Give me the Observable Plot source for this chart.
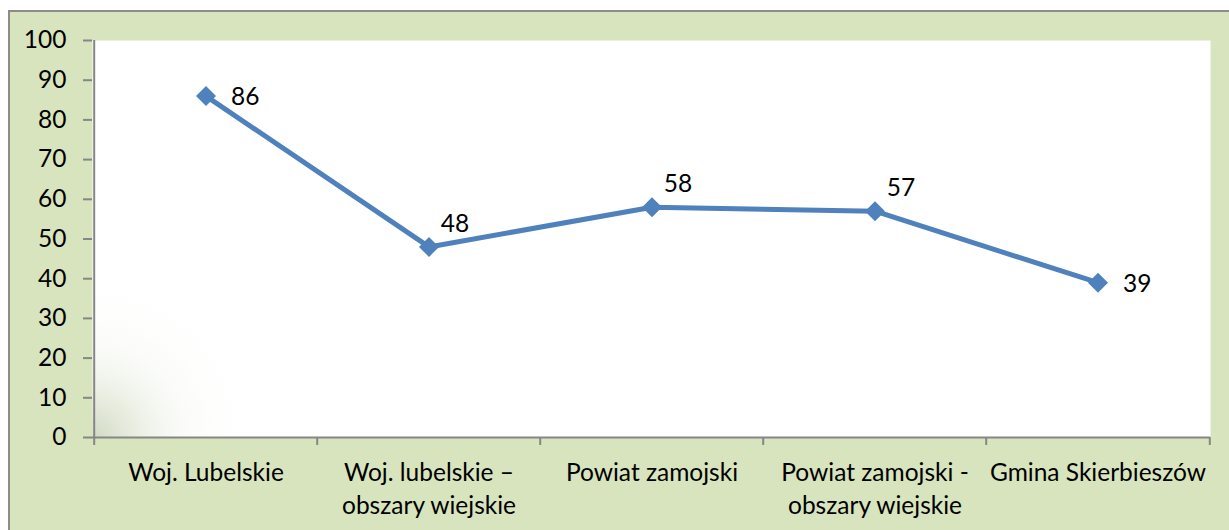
<!DOCTYPE html>
<html>
<head>
<meta charset="utf-8">
<script src="https://cdn.jsdelivr.net/npm/d3@7"></script>
<script src="https://cdn.jsdelivr.net/npm/@observablehq/plot@0.6"></script>
<style>
  html, body { margin: 0; padding: 0; background: #ffffff; }
  #wrap { position: relative; width: 1229px; height: 530px; overflow: hidden; }
  #box { position: absolute; left: 8px; top: 10px; width: 1250px; height: 560px;
         background: #d7e4bd; border: 2px solid #8c8c8c; box-sizing: border-box; }
  #chart { position: absolute; left: 0; top: 0; }
</style>
</head>
<body>
<div id="wrap">
  <div id="box"></div>
  <div id="chart"></div>
</div>
<script>
const categories = [
  "Woj. Lubelskie",
  "Woj. lubelskie –\nobszary wiejskie",
  "Powiat zamojski",
  "Powiat zamojski -\nobszary wiejskie",
  "Gmina Skierbieszów"
];
const values = [86, 48, 58, 57, 39];
const yTicks = [0, 10, 20, 30, 40, 50, 60, 70, 80, 90, 100];

const data = categories.map((c, i) => ({category: c, value: values[i], i}));

const W = 1229, H = 530, mL = 92, mR = 19, mT = 40, mB = 93;
const bw = (W - mL - mR) / categories.length;
const font = "Lato, 'Open Sans', sans-serif";
const lineColor = "#4f81bd";
const axisGray = "#868686";

const chart = Plot.plot({
  width: W, height: H,
  marginLeft: mL, marginRight: mR, marginTop: mT, marginBottom: mB,
  style: {background: "transparent", fontFamily: font, fontSize: "24px", color: "#000"},
  x: {type: "band", domain: categories, padding: 0, label: null},
  y: {domain: [0, 100], label: null},
  marks: [
    Plot.frame({fill: "#ffffff", stroke: "none"}),
    Plot.frame({fill: "url(#cornerGrad)", stroke: "none"}),
    Plot.axisY({ticks: yTicks, tickFormat: d => d, tickSize: 9, tickPadding: 17, label: null,
      stroke: axisGray, strokeWidth: 2, strokeOpacity: 1, fill: "#000", fontSize: 24.5}),
    Plot.axisX({tickSize: 0, tickPadding: 20, label: null, fill: "#000", fontSize: 24.5, lineHeight: 1.35}),
    // axis lines
    Plot.ruleY([0], {stroke: axisGray, strokeWidth: 2}),
    Plot.ruleX([categories[0]], {dx: -bw / 2, y1: 0, y2: 100, stroke: axisGray, strokeWidth: 2}),
    // category boundary ticks
    Plot.ruleX(categories, {dx: -bw / 2, y1: 0, y2: -2, stroke: axisGray, strokeWidth: 2}),
    Plot.ruleX([categories[categories.length - 1]], {dx: bw / 2, y1: 0, y2: -2, stroke: axisGray, strokeWidth: 2}),
    // series
    Plot.line(data, {x: "category", y: "value", stroke: lineColor, strokeWidth: 5}),
    Plot.dot(data, {x: "category", y: "value", symbol: "diamond2", r: 9, fill: lineColor, stroke: "none"}),
    Plot.text(data, {filter: d => d.i === 0 || d.i === 4, x: "category", y: "value", text: d => String(d.value),
      textAnchor: "start", dx: 25, dy: 1, fontSize: 24.5, fill: "#000"}),
    Plot.text(data, {filter: d => d.i >= 1 && d.i <= 3, x: "category", y: "value", text: d => String(d.value),
      textAnchor: "middle", dx: 26, dy: -23, fontSize: 24.5, fill: "#000"})
  ]
});

// subtle greenish shading in the lower-left corner of the plot area
const svg = d3.select(chart);
const defs = svg.insert("defs", ":first-child");
const g = defs.append("radialGradient")
  .attr("id", "cornerGrad")
  .attr("gradientUnits", "userSpaceOnUse")
  .attr("cx", mL).attr("cy", H - mB).attr("r", 170);
g.append("stop").attr("offset", "0%").attr("stop-color", "#a3b386").attr("stop-opacity", 0.5);
g.append("stop").attr("offset", "25%").attr("stop-color", "#bac8a2").attr("stop-opacity", 0.32);
g.append("stop").attr("offset", "55%").attr("stop-color", "#dde5cf").attr("stop-opacity", 0.12);
g.append("stop").attr("offset", "100%").attr("stop-color", "#ffffff").attr("stop-opacity", 0);

document.getElementById("chart").appendChild(chart);
</script>
</body>
</html>
